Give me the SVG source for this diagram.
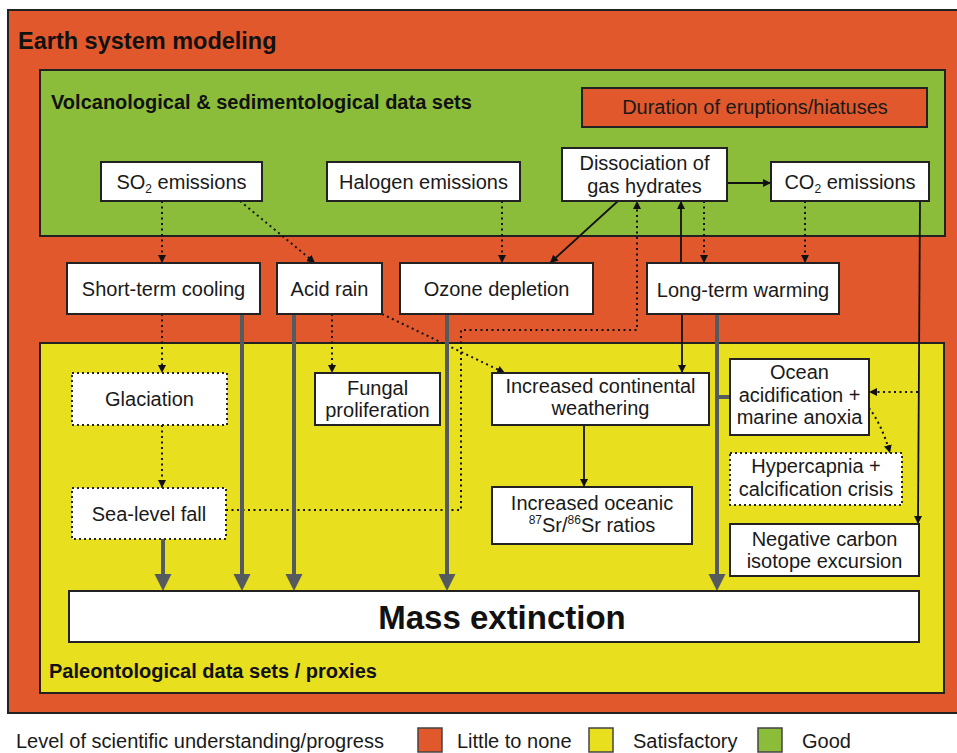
<svg xmlns="http://www.w3.org/2000/svg" width="957" height="753" viewBox="0 0 957 753">
<defs>
<style>
.t{font-family:"Liberation Sans",Arial,sans-serif;font-size:20px;fill:#1a1a1a;text-anchor:middle}
.h{font-family:"Liberation Sans",Arial,sans-serif;font-weight:bold;fill:#111}
.box{fill:#fff;stroke:#222;stroke-width:2}
.dbox{fill:#fff;stroke:#222;stroke-width:2;stroke-dasharray:2 3}
.dot{fill:none;stroke:#111;stroke-width:2;stroke-dasharray:2 3.5}
.sol{fill:none;stroke:#111;stroke-width:1.8}
.gr{fill:none;stroke:#555a5e;stroke-width:4}
.sub{font-size:12px}
</style>
<marker id="ab" viewBox="0 0 10 10" refX="10" refY="5" markerWidth="8" markerHeight="8" markerUnits="userSpaceOnUse" orient="auto"><path d="M0,0 L10,5 L0,10 z" fill="#111"/></marker>
<marker id="ag" viewBox="0 0 10 10" refX="0" refY="5" markerWidth="17" markerHeight="18" markerUnits="userSpaceOnUse" orient="auto"><path d="M0,0 L10,5 L0,10 z" fill="#555a5e"/></marker>
</defs>
<rect width="957" height="753" fill="#fff"/>

<g id="earth-system">
<rect x="8" y="10" width="950" height="703" fill="#e0582c" stroke="#222" stroke-width="2"/>
<text class="h" x="18" y="49" font-size="23.5">Earth system modeling</text>
</g>

<g id="volcanological">
<rect x="40" y="70" width="905" height="166" fill="#8bbd3a" stroke="#222" stroke-width="2"/>
<text class="h" x="51" y="109" font-size="20">Volcanological &amp; sedimentological data sets</text>
</g>

<g id="paleontological">
<rect x="40" y="343" width="904" height="350" fill="#e8df1e" stroke="#222" stroke-width="2"/>
<text class="h" x="49" y="678" font-size="20">Paleontological data sets / proxies</text>
</g>

<g id="duration">
<rect x="582" y="88" width="345" height="39" fill="#e0582c" stroke="#222" stroke-width="2"/>
<text class="t" x="755" y="114">Duration of eruptions/hiatuses</text>
</g>

<g id="connectors">
<line class="dot" x1="162" y1="201" x2="162" y2="263" marker-end="url(#ab)"/>
<line class="dot" x1="240" y1="201" x2="315" y2="263" marker-end="url(#ab)"/>
<line class="dot" x1="502" y1="201" x2="502" y2="263" marker-end="url(#ab)"/>
<line class="sol" x1="618" y1="201" x2="550" y2="263" marker-end="url(#ab)"/>
<line class="sol" x1="727" y1="183" x2="771" y2="183" marker-end="url(#ab)"/>
<polyline class="dot" points="226,510 461,510 461,330 637,330 637,201" marker-end="url(#ab)"/>
<line class="sol" x1="681" y1="263" x2="681" y2="201" marker-end="url(#ab)"/>
<line class="sol" x1="682" y1="314" x2="682" y2="373" marker-end="url(#ab)"/>
<line class="dot" x1="704" y1="201" x2="704" y2="263" marker-end="url(#ab)"/>
<line class="dot" x1="805" y1="201" x2="805" y2="263" marker-end="url(#ab)"/>
<line class="sol" x1="920" y1="201" x2="918" y2="524" marker-end="url(#ab)"/>
<line class="dot" x1="918" y1="392" x2="869" y2="392" marker-end="url(#ab)"/>
<path class="dot" d="M869,408 Q882,425 890,453" marker-end="url(#ab)"/>
<line class="dot" x1="382" y1="314" x2="505" y2="373" marker-end="url(#ab)"/>
<line class="dot" x1="332" y1="314" x2="332" y2="373" marker-end="url(#ab)"/>
<line class="dot" x1="162" y1="314" x2="162" y2="373" marker-end="url(#ab)"/>
<line class="dot" x1="162" y1="425" x2="162" y2="488" marker-end="url(#ab)"/>
<line class="sol" x1="584" y1="425" x2="584" y2="487" marker-end="url(#ab)"/>
<line class="gr" x1="163" y1="539" x2="163" y2="574" marker-end="url(#ag)"/>
<line class="gr" x1="242" y1="314" x2="242" y2="574" marker-end="url(#ag)"/>
<line class="gr" x1="294" y1="314" x2="294" y2="574" marker-end="url(#ag)"/>
<line class="gr" x1="447" y1="314" x2="447" y2="574" marker-end="url(#ag)"/>
<line class="gr" x1="717" y1="314" x2="717" y2="574" marker-end="url(#ag)"/>
<line class="gr" x1="717" y1="397" x2="730" y2="397"/>
</g>

<g id="so2">
<rect class="box" x="101" y="162" width="161" height="39"/>
<text class="t" x="181.5" y="189">SO<tspan class="sub" dy="4">2</tspan><tspan dy="-4"> emissions</tspan></text>
</g>
<g id="halogen">
<rect class="box" x="327" y="162" width="193" height="39"/>
<text class="t" x="423.5" y="189">Halogen emissions</text>
</g>
<g id="gas-hydrates">
<rect class="box" x="562" y="148" width="165" height="53"/>
<text class="t" x="644.5" y="170">Dissociation of</text>
<text class="t" x="644.5" y="193">gas hydrates</text>
</g>
<g id="co2">
<rect class="box" x="771" y="162" width="158" height="39"/>
<text class="t" x="850" y="189">CO<tspan class="sub" dy="4">2</tspan><tspan dy="-4"> emissions</tspan></text>
</g>

<g id="short-term-cooling">
<rect class="box" x="67" y="263" width="193" height="51"/>
<text class="t" x="163.5" y="296">Short-term cooling</text>
</g>
<g id="acid-rain">
<rect class="box" x="277" y="263" width="105" height="51"/>
<text class="t" x="329.5" y="296">Acid rain</text>
</g>
<g id="ozone-depletion">
<rect class="box" x="400" y="263" width="193" height="51"/>
<text class="t" x="496.5" y="296">Ozone depletion</text>
</g>
<g id="long-term-warming">
<rect class="box" x="647" y="263" width="192" height="51"/>
<text class="t" x="743" y="297">Long-term warming</text>
</g>

<g id="glaciation">
<rect class="dbox" x="72" y="373" width="155" height="52"/>
<text class="t" x="149.5" y="406">Glaciation</text>
</g>
<g id="fungal">
<rect class="box" x="315" y="373" width="125" height="52"/>
<text class="t" x="377.5" y="395">Fungal</text>
<text class="t" x="377.5" y="417">proliferation</text>
</g>
<g id="continental-weathering">
<rect class="box" x="492" y="373" width="217" height="52"/>
<text class="t" x="600.5" y="393">Increased continental</text>
<text class="t" x="600.5" y="415">weathering</text>
</g>
<g id="ocean-acidification">
<rect class="box" x="730" y="359" width="139" height="76"/>
<text class="t" x="799.5" y="379">Ocean</text>
<text class="t" x="799.5" y="402">acidification +</text>
<text class="t" x="799.5" y="424">marine anoxia</text>
</g>
<g id="hypercapnia">
<rect class="dbox" x="730" y="453" width="172" height="52"/>
<text class="t" x="816" y="473">Hypercapnia +</text>
<text class="t" x="816" y="496">calcification crisis</text>
</g>
<g id="sea-level-fall">
<rect class="dbox" x="72" y="488" width="154" height="51"/>
<text class="t" x="149" y="521">Sea-level fall</text>
</g>
<g id="sr-ratios">
<rect class="box" x="492" y="487" width="200" height="57"/>
<text class="t" x="592" y="510">Increased oceanic</text>
<text class="t" x="592" y="532"><tspan class="sub" dy="-8">87</tspan><tspan dy="8">Sr/</tspan><tspan class="sub" dy="-8">86</tspan><tspan dy="8">Sr ratios</tspan></text>
</g>
<g id="carbon-isotope">
<rect class="box" x="730" y="524" width="189" height="52"/>
<text class="t" x="824.5" y="546">Negative carbon</text>
<text class="t" x="824.5" y="568">isotope excursion</text>
</g>
<g id="mass-extinction">
<rect class="box" x="69" y="591" width="850" height="51"/>
<text class="h" x="502" y="629" font-size="33" text-anchor="middle">Mass extinction</text>
</g>

<g id="legend">
<text class="t" x="16" y="748" style="text-anchor:start">Level of scientific understanding/progress</text>
<rect x="418" y="728" width="24" height="24" fill="#e0582c" stroke="#444" stroke-width="1.5"/>
<text class="t" x="457" y="748" style="text-anchor:start">Little to none</text>
<rect x="589" y="728" width="24" height="24" fill="#e8df1e" stroke="#444" stroke-width="1.5"/>
<text class="t" x="633" y="748" style="text-anchor:start">Satisfactory</text>
<rect x="758" y="728" width="24" height="24" fill="#8bbd3a" stroke="#444" stroke-width="1.5"/>
<text class="t" x="802" y="748" style="text-anchor:start">Good</text>
</g>
</svg>
